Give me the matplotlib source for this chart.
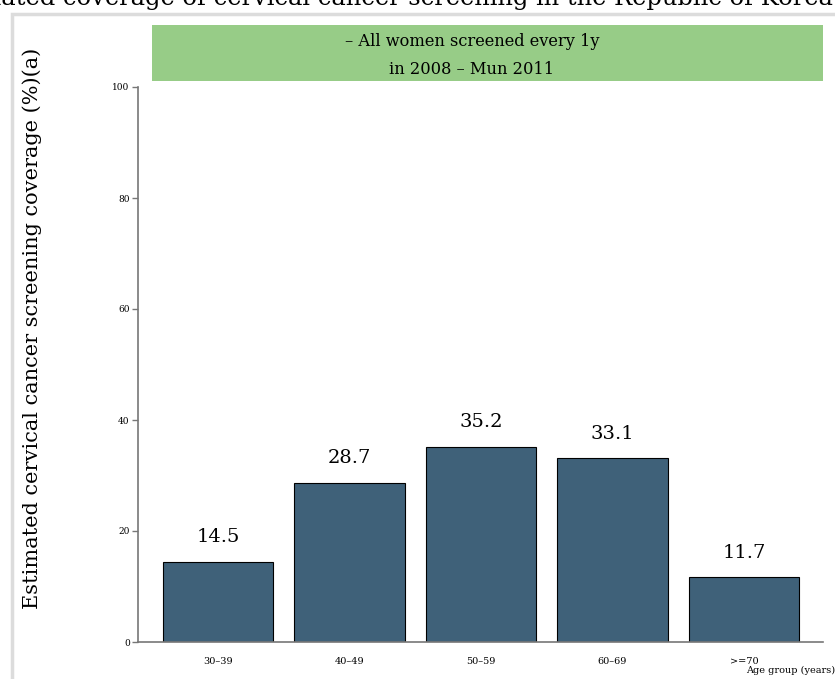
import matplotlib
matplotlib.use("Agg")
import matplotlib.pyplot as plt
from matplotlib.patches import Rectangle

# chart data
age_groups = ["30\u201339", "40\u201349", "50\u201359", "60\u201369", ">=70"]
coverage = [14.5, 28.7, 35.2, 33.1, 11.7]
y_ticks = [0, 20, 40, 60, 80, 100]

title = "Estimated coverage of cervical cancer screening in the Republic of Korea"
subtitle_1 = "\u2013 All women screened every 1y"
subtitle_2 = "in 2008 \u2013 Mun 2011"
ylabel = "Estimated cervical cancer screening coverage (%)(a)"
xlabel = "Age group (years)"

BAR = "#3f6179"
GREEN = "#97cc87"
AXIS = "#777777"

plt.rcParams["font.family"] = ["DejaVu Serif"]

fig = plt.figure(figsize=(8.35, 6.79), dpi=100)
W, H = 835.0, 679.0

# light frame around the panel (runs off the right/bottom edge)
fig.patches.append(Rectangle((12 / W, -0.1), 1.2, 1 - 14 / H + 0.1,
                             transform=fig.transFigure, fill=False,
                             edgecolor="#dcdcdc", linewidth=2.5, zorder=0))

# title, cut by the top edge as in the source image
fig.text(833 / W, 1 - 5 / H, title, ha="right", va="baseline",
         fontsize=17.4, color="black")

# green header box
fig.patches.append(Rectangle((152 / W, 1 - 81 / H), (823 - 152) / W, 56 / H,
                             transform=fig.transFigure, facecolor=GREEN,
                             edgecolor="none", zorder=1))
fig.text(472 / W, 1 - 42 / H, subtitle_1, ha="center", va="center", fontsize=11.7)
fig.text(472 / W, 1 - 70 / H, subtitle_2, ha="center", va="center", fontsize=11.7)

ax = fig.add_axes([138 / W, 1 - 642 / H, (823 - 138) / W, (642 - 87) / H])
x = range(len(age_groups))
ax.bar(x, coverage, width=0.84, color=BAR, edgecolor="black", linewidth=0.8)

for xi, v in zip(x, coverage):
    ax.annotate(f"{v}", (xi, v), xytext=(0, 14), textcoords="offset points",
                ha="center", va="baseline", fontsize=14)

ax.set_xlim(-0.608, 4.6)
ax.set_ylim(0, 100)
ax.set_yticks(y_ticks)
ax.set_xticks(list(x))
ax.set_xticklabels(age_groups)
ax.tick_params(axis="y", length=4, width=1, color=AXIS, labelsize=6.5, pad=2)
ax.tick_params(axis="x", length=0, labelsize=7, pad=11)

for side in ["top", "right"]:
    ax.spines[side].set_visible(False)
for side in ["left", "bottom"]:
    ax.spines[side].set_color(AXIS)
    ax.spines[side].set_linewidth(1.2)

fig.text(32 / W, 1 - 328 / H, ylabel, rotation=90, ha="center", va="center",
         fontsize=15)
fig.text(835 / W, 1 - 673 / H, xlabel, ha="right", va="baseline", fontsize=7)

fig.savefig("out.png", dpi=100)
